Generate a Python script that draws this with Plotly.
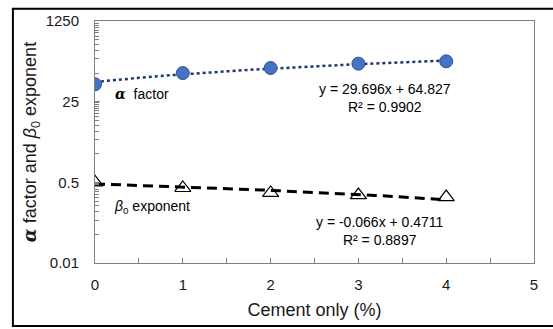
import numpy as np
import plotly.graph_objects as go

cement = [0, 1, 2, 3, 4]
alpha_factor = [58, 100, 128, 158, 177]
beta0_exponent = [0.50, 0.38, 0.30, 0.27, 0.245]
y_ticks = [0.01, 0.5, 25, 1250]
y_tick_labels = ["0.01", "0.5", "25", "1250"]
x_ticks = [0, 1, 2, 3, 4, 5]
minor_y = ([0.04 * k for k in range(1, 13)] + [2 * k for k in range(1, 13)]
           + [100 * k for k in range(1, 13)])
alpha_eq = "y = 29.696x + 64.827<br>R² = 0.9902"
beta_eq = "y = -0.066x + 0.4711<br>R² = 0.8897"

xd = np.linspace(min(cement), max(cement), 60)
pa = np.polyfit(cement, alpha_factor, 1)
pb = np.polyfit(cement, beta0_exponent, 1)

fig = go.Figure()
fig.add_trace(go.Scatter(x=xd, y=np.polyval(pa, xd), mode="lines",
                         line=dict(color="#1F3470", width=2.5, dash="dot"),
                         hoverinfo="skip", showlegend=False))
fig.add_trace(go.Scatter(x=xd, y=np.polyval(pb, xd), mode="lines",
                         line=dict(color="black", width=3, dash="10px,6px"),
                         hoverinfo="skip", showlegend=False))
fig.add_trace(go.Scatter(x=cement, y=alpha_factor, mode="markers",
                         marker=dict(symbol="circle", size=13, color="#4472C4",
                                     line=dict(color="#2F5597", width=1)),
                         showlegend=False))
fig.add_trace(go.Scatter(x=cement, y=beta0_exponent, mode="markers",
                         marker=dict(symbol="triangle-up-open", size=14, color="black",
                                     line=dict(color="black", width=1.2)),
                         showlegend=False))

font_fam = "Liberation Sans, Arial, sans-serif"
serif_a = "<span style=\"font-family:'DejaVu Serif'\"><b><i>α</i></b></span>"
fig.update_layout(
    width=553, height=329,
    margin=dict(l=95, r=19, t=19, b=66),
    paper_bgcolor="white", plot_bgcolor="white",
    font=dict(family=font_fam, color="#1a1a1a", size=15),
    xaxis=dict(range=[0, 5], tickvals=x_ticks, ticks="inside", ticklen=5,
               tickcolor="#7f7f7f", showline=True, linecolor="#7f7f7f", linewidth=1,
               mirror=True, showgrid=False, zeroline=False, ticklabelstandoff=8,
               minor=dict(dtick=0.5, ticks="inside", ticklen=5, tickcolor="#7f7f7f"),
               tickfont=dict(size=15),
               title=dict(text="Cement only (%)", font=dict(size=18), standoff=11)),
    yaxis=dict(type="log", range=[np.log10(0.01), np.log10(1250)],
               tickvals=y_ticks, ticktext=y_tick_labels, ticks="inside", ticklen=5,
               tickcolor="#7f7f7f", showline=True, linecolor="#7f7f7f", linewidth=1,
               mirror=True, showgrid=False, zeroline=False, ticklabelstandoff=12,
               minor=dict(tickvals=minor_y, ticks="inside", ticklen=4, tickcolor="#7f7f7f"),
               tickfont=dict(size=15),
               title=dict(text=serif_a + " factor and <i>β</i><sub>0</sub> exponent",
                          font=dict(size=18), standoff=4)),
)

fig.add_annotation(xref="paper", yref="paper", x=0.041, y=0.697, xanchor="left",
                   yanchor="middle", showarrow=False,
                   text=serif_a + "  factor", font=dict(size=14, color="black"))
fig.add_annotation(xref="paper", yref="paper", x=0.039, y=0.230, xanchor="left",
                   yanchor="middle", showarrow=False,
                   text="<i>β</i><sub>0</sub> exponent", font=dict(size=14, color="black"))
fig.add_annotation(xref="paper", yref="paper", x=0.661, y=0.680, xanchor="center",
                   yanchor="middle", showarrow=False, align="center",
                   text=alpha_eq, font=dict(size=14, color="black"))
fig.add_annotation(xref="paper", yref="paper", x=0.649, y=0.131, xanchor="center",
                   yanchor="middle", showarrow=False, align="center",
                   text=beta_eq, font=dict(size=14, color="black"))

fig.add_shape(type="rect", xref="paper", yref="paper", x0=-0.187, x1=1.06,
              y0=-0.260, y1=1.051, line=dict(color="black", width=2),
              fillcolor="rgba(0,0,0,0)", layer="above")

fig.write_html("out.html")
